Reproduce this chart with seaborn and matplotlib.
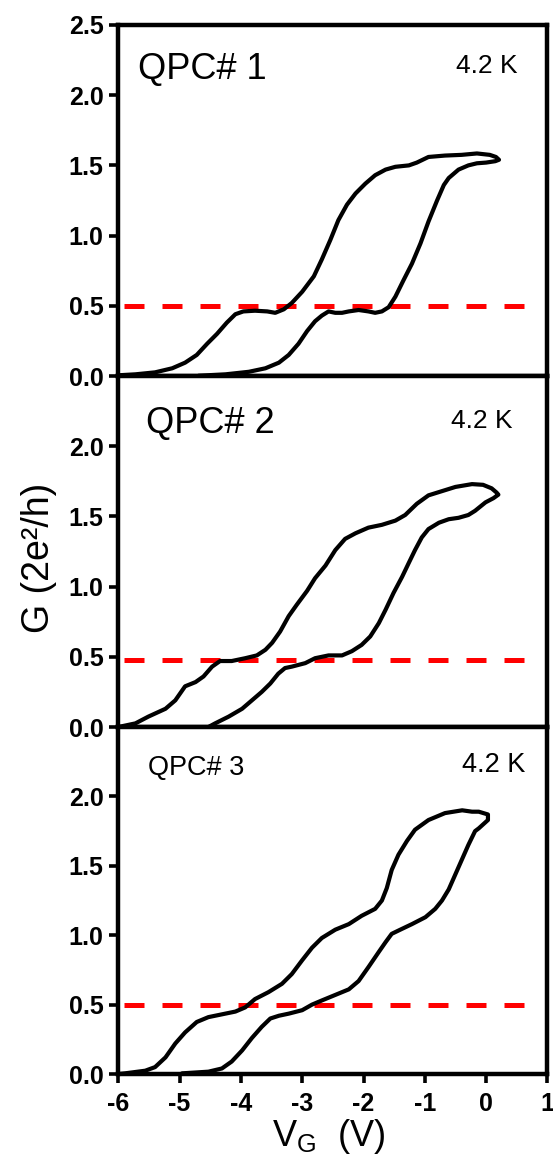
import matplotlib
matplotlib.use("Agg")
import matplotlib.pyplot as plt
import seaborn as sns
import pandas as pd

# ---------------- data ----------------
# QPC#1 hysteresis loop: forward sweep, then return sweep
v1 = [-6.00, -5.72, -5.40, -5.12, -4.91, -4.72, -4.55, -4.39, -4.23, -4.09, -3.96, -3.77,
      -3.57, -3.44, -3.30, -3.17, -3.00, -2.81, -2.68, -2.54, -2.41, -2.27, -2.13, -1.97,
      -1.81, -1.64, -1.48, -1.26, -1.13, -0.94, -0.67, -0.40, -0.15, 0.06, 0.16, 0.21,
      0.15, 0.00, -0.15, -0.29, -0.45, -0.61, -0.69, -0.80, -0.94, -1.07, -1.21, -1.35,
      -1.48, -1.59, -1.70, -1.81, -1.92, -2.08, -2.24, -2.35, -2.46, -2.57, -2.68, -2.79,
      -2.92, -3.06, -3.22, -3.38, -3.60, -3.87, -4.25, -4.69]
g1 = [0.005, 0.012, 0.026, 0.055, 0.095, 0.15, 0.23, 0.30, 0.38, 0.44, 0.46, 0.465,
      0.46, 0.45, 0.475, 0.52, 0.60, 0.71, 0.83, 0.97, 1.11, 1.22, 1.30, 1.37,
      1.43, 1.47, 1.49, 1.50, 1.52, 1.56, 1.57, 1.575, 1.585, 1.575, 1.56, 1.54,
      1.53, 1.52, 1.515, 1.50, 1.47, 1.41, 1.36, 1.25, 1.10, 0.945, 0.80, 0.68,
      0.565, 0.49, 0.46, 0.45, 0.46, 0.47, 0.46, 0.45, 0.45, 0.46, 0.43, 0.39,
      0.32, 0.23, 0.15, 0.095, 0.055, 0.03, 0.012, 0.002]

# QPC#2 hysteresis loop
v2 = [-6.00, -5.72, -5.51, -5.23, -5.07, -4.91, -4.74, -4.61, -4.47, -4.34, -4.15, -3.93,
      -3.74, -3.60, -3.49, -3.36, -3.22, -3.09, -2.92, -2.79, -2.62, -2.46, -2.30, -2.13,
      -1.92, -1.70, -1.48, -1.32, -1.13, -0.94, -0.72, -0.50, -0.23, -0.05, 0.09, 0.17, 0.20,
      0.12, -0.01, -0.18, -0.29, -0.45, -0.61, -0.77, -0.94, -1.05, -1.16, -1.26, -1.37,
      -1.51, -1.64, -1.75, -1.89, -2.03, -2.19, -2.35, -2.57, -2.79, -2.95, -3.17, -3.28,
      -3.39, -3.52, -3.66, -3.82, -3.98, -4.20, -4.42, -4.53]
g2 = [0.00, 0.026, 0.074, 0.13, 0.19, 0.29, 0.32, 0.36, 0.43, 0.47, 0.47, 0.49,
      0.51, 0.55, 0.60, 0.68, 0.79, 0.87, 0.97, 1.06, 1.15, 1.26, 1.34, 1.38,
      1.42, 1.44, 1.47, 1.51, 1.59, 1.65, 1.68, 1.71, 1.73, 1.725, 1.70, 1.67, 1.655,
      1.63, 1.60, 1.54, 1.51, 1.49, 1.48, 1.455, 1.41, 1.35, 1.26, 1.17, 1.07,
      0.955, 0.835, 0.74, 0.645, 0.585, 0.54, 0.51, 0.51, 0.49, 0.455, 0.43, 0.42,
      0.38, 0.31, 0.25, 0.19, 0.13, 0.074, 0.026, 0.00]

# QPC#3 hysteresis loop
v3 = [-6.00, -5.89, -5.56, -5.40, -5.23, -5.07, -4.91, -4.72, -4.53, -4.31, -4.09, -3.93,
      -3.77, -3.55, -3.33, -3.17, -3.00, -2.84, -2.68, -2.46, -2.24, -2.03, -1.81, -1.70,
      -1.62, -1.54, -1.43, -1.29, -1.16, -0.94, -0.67, -0.39, -0.23, -0.12, 0.03,
      0.03, -0.12, -0.18, -0.29, -0.39, -0.50, -0.61, -0.72, -0.83, -0.99, -1.21, -1.40,
      -1.54, -1.64, -1.75, -1.92, -2.08, -2.24, -2.46, -2.68, -2.84, -3.00, -3.22, -3.38,
      -3.52, -3.66, -3.82, -3.98, -4.15, -4.31, -4.53, -4.96]
g3 = [0.00, 0.005, 0.024, 0.05, 0.12, 0.22, 0.30, 0.375, 0.41, 0.43, 0.45, 0.48,
      0.54, 0.59, 0.65, 0.72, 0.82, 0.91, 0.98, 1.04, 1.08, 1.14, 1.19, 1.25,
      1.34, 1.47, 1.58, 1.68, 1.76, 1.83, 1.88, 1.90, 1.89, 1.89, 1.87,
      1.83, 1.77, 1.75, 1.65, 1.55, 1.44, 1.33, 1.25, 1.19, 1.13, 1.08, 1.04,
      1.01, 0.95, 0.88, 0.77, 0.67, 0.61, 0.57, 0.53, 0.50, 0.46, 0.435, 0.42,
      0.40, 0.34, 0.26, 0.17, 0.09, 0.04, 0.017, 0.005]

panel_labels = ["QPC# 1", "QPC# 2", "QPC# 3"]
temp_label = "4.2 K"
half_plateau = [0.50, 0.48, 0.50]
dash_span = (-5.9, 0.68)
x_ticks = [-6, -5, -4, -3, -2, -1, 0, 1]
y_ticks_top = [0.0, 0.5, 1.0, 1.5, 2.0, 2.5]
y_ticks_rest = [0.0, 0.5, 1.0, 1.5, 2.0]

# ---------------- style ----------------
sns.set_style("ticks")
plt.rcParams["font.family"] = ["Liberation Sans", "DejaVu Sans"]
plt.rcParams["mathtext.fontset"] = "custom"
plt.rcParams["mathtext.rm"] = "Liberation Sans"
plt.rcParams["axes.unicode_minus"] = False
for key in ["text.color", "axes.labelcolor", "xtick.color", "ytick.color", "axes.edgecolor"]:
    plt.rcParams[key] = "black"

fig = plt.figure(figsize=(5.53, 11.62), dpi=100)
gs = fig.add_gridspec(3, 1, left=0.2139, right=0.9899, bottom=0.0757, top=0.9785,
                      hspace=0, height_ratios=[351, 351, 347])
axes = [fig.add_subplot(gs[i]) for i in range(3)]

curves = [(v1, g1), (v2, g2), (v3, g3)]
label_specs = [
    dict(qx=0.045, qy=0.846, qs=26, tx=0.93, ty=0.863, ts=19),
    dict(qx=0.065, qy=0.837, qs=26, tx=0.918, ty=0.851, ts=19),
    dict(qx=0.07, qy=0.861, qs=19.5, tx=0.948, ty=0.869, ts=19.5),
]

for i, ax in enumerate(axes):
    v, g = curves[i]
    df = pd.DataFrame({"V": v, "G": g})
    sns.lineplot(data=df, x="V", y="G", sort=False, estimator=None, ax=ax,
                 color="black", linewidth=3.0, solid_joinstyle="round",
                 solid_capstyle="round", zorder=3)
    ax.hlines(half_plateau[i], dash_span[0], dash_span[1], colors="#ff0000",
              linestyles=(0, (4.0, 3.6)), linewidth=3.6, zorder=2)
    ax.set_xlim(-6, 1)
    ax.set_ylim(0, 2.5)
    ax.set_xticks(x_ticks)
    yt = y_ticks_top if i == 0 else y_ticks_rest
    ax.set_yticks(yt)
    ax.set_yticklabels([f"{t:.1f}" for t in yt])
    ax.set_xticklabels([str(t) for t in x_ticks])
    for sp in ax.spines.values():
        sp.set_linewidth(3.2)
        sp.set_color("black")
        sp.set_zorder(4)
    ax.tick_params(direction="out", length=6.5, width=2.6, labelsize=18, colors="black",
                   top=False, right=False)
    ax.tick_params(axis="y", pad=4)
    ax.tick_params(axis="x", pad=6.5)
    for lab in ax.get_yticklabels() + ax.get_xticklabels():
        lab.set_fontweight("bold")
    if i < 2:
        ax.tick_params(axis="x", labelbottom=False)
    ax.set_xlabel("")
    ax.set_ylabel("")
    s = label_specs[i]
    ax.text(s["qx"], s["qy"], panel_labels[i], transform=ax.transAxes, fontsize=s["qs"],
            ha="left", va="baseline")
    ax.text(s["tx"], s["ty"], temp_label, transform=ax.transAxes, fontsize=s["ts"],
            ha="right", va="baseline")

axes[2].set_xlabel(r"V$_\mathregular{G}$  (V)", fontsize=26)
axes[2].xaxis.set_label_coords(0.49, -0.208)
axes[2].xaxis.label.set_va("baseline")
fig.text(0.071, 0.52, "G (2e²/h)", rotation=90, fontsize=27, ha="center", va="center")

fig.savefig("out.png", dpi=100)
